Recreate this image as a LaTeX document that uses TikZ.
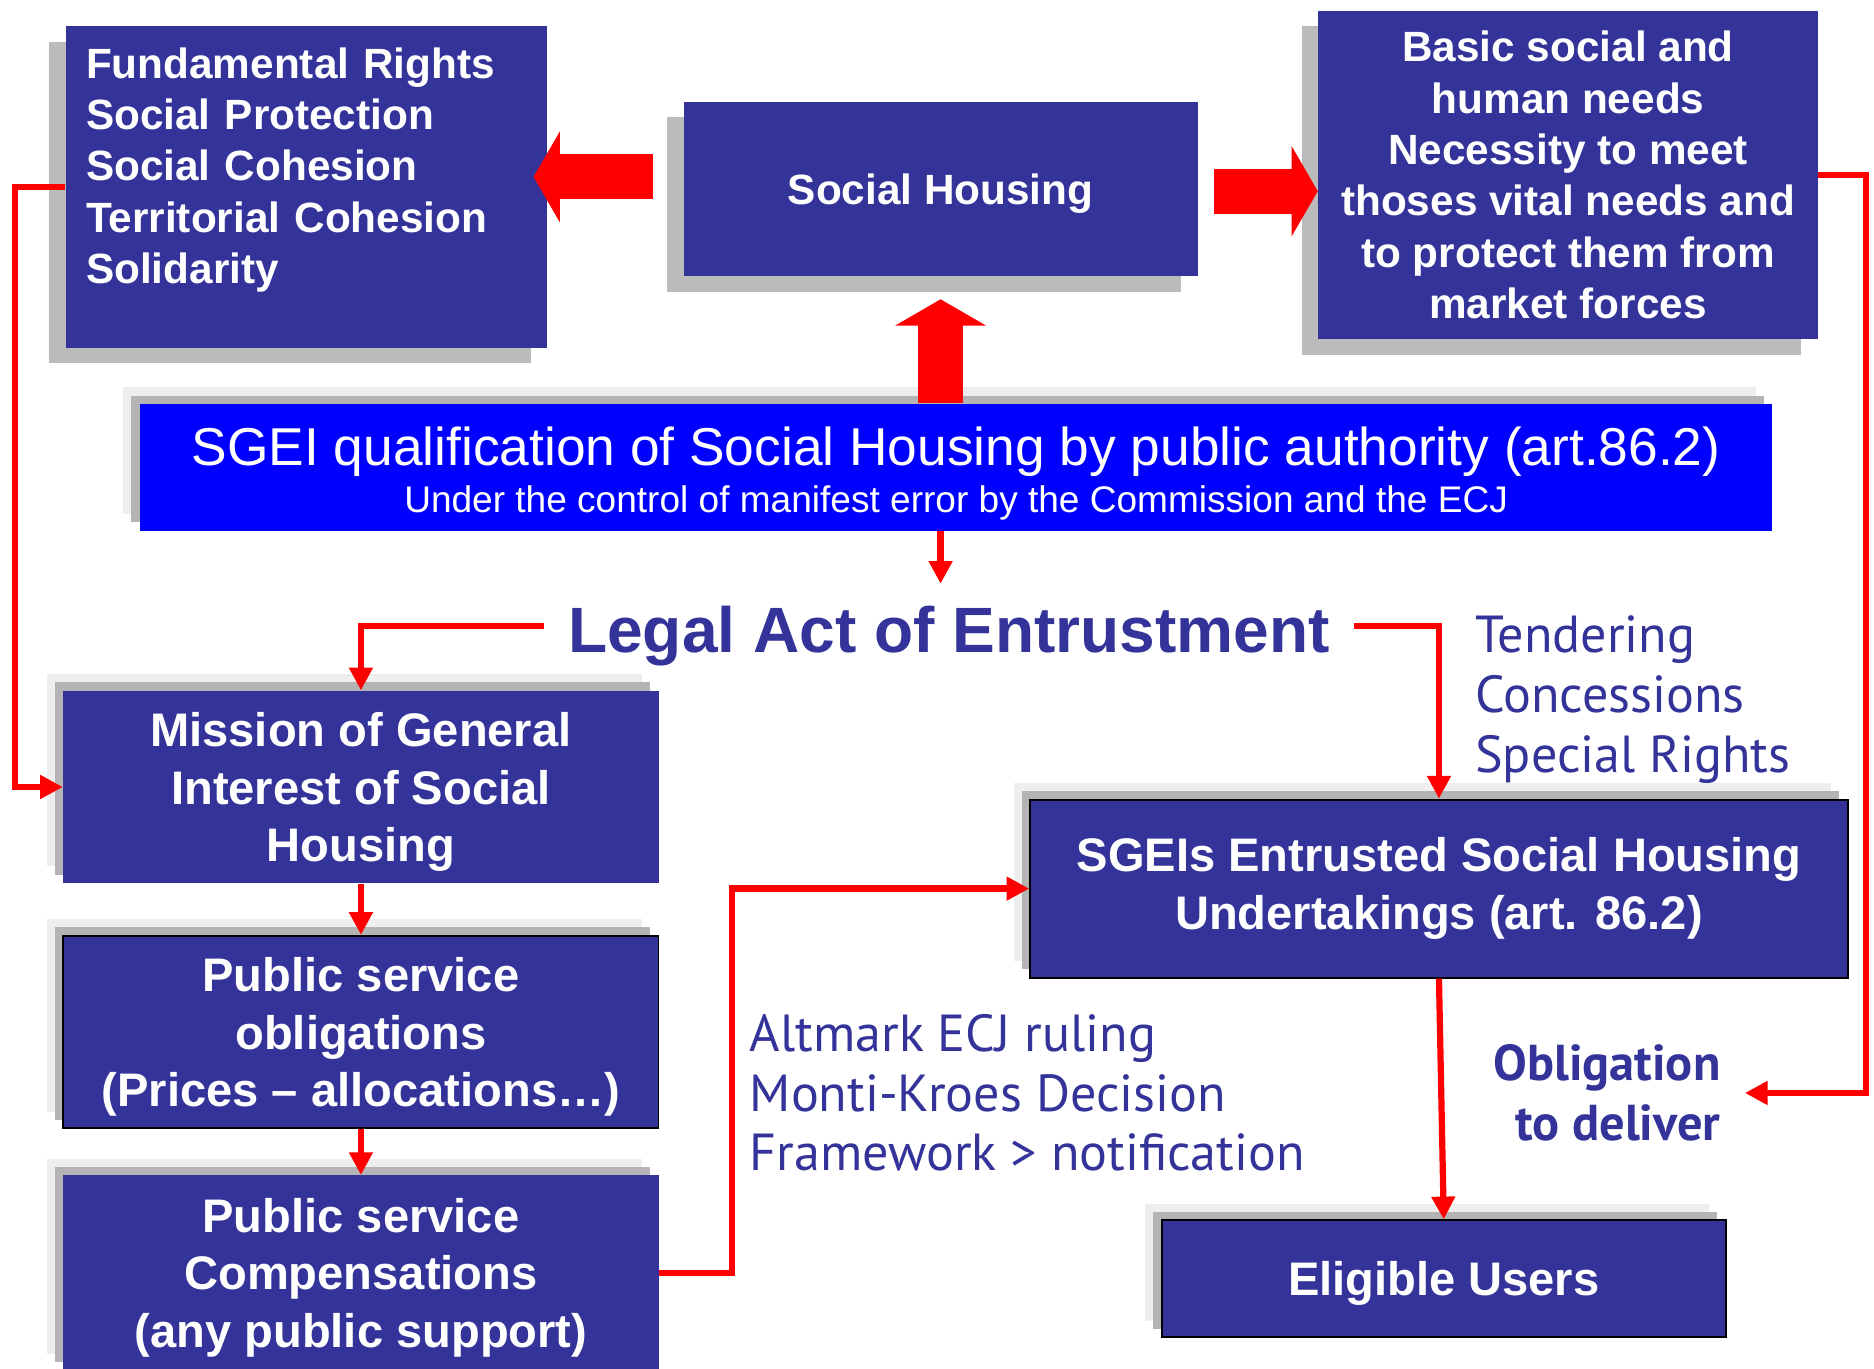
\documentclass[tikz,border=0pt]{standalone}
\usepackage{fontspec}
\setmainfont{Liberation Sans}
\newfontfamily\notefont{PT Sans}
\usetikzlibrary{arrows.meta,positioning,shadows,calc}
\definecolor{boxblue}{RGB}{51,51,153}
\definecolor{bandblue}{RGB}{0,0,255}
\definecolor{shadowgrey}{RGB}{187,187,187}
\definecolor{midgrey}{RGB}{180,180,180}
\definecolor{lightgrey}{RGB}{238,238,238}
\newcommand{\lowstrut}{\rule{0pt}{18.4pt}}

\begin{document}
\begin{tikzpicture}[x=0.5pt,y=-0.5pt,
    box/.style={fill=boxblue,text=white,align=center,inner sep=0pt,font=\bfseries\fontsize{17.7}{21.5}\selectfont},
    topshade/.style={general shadow={fill=shadowgrey,draw=none,shadow xshift=-7pt,shadow yshift=-6.5pt}},
    lowshade/.style={general shadow={fill=lightgrey,draw=none,shadow xshift=-7pt,shadow yshift=7pt},
      general shadow={fill=midgrey,draw=none,shadow xshift=-3.5pt,shadow yshift=3.5pt}},
    topbox/.style={box,topshade},
    lowbox/.style={box,lowshade,font=\bfseries\fontsize{19.7}{24}\selectfont},
    framed/.style={draw=black,line width=0.8pt},
    link/.style={draw=red,line width=2.6pt,-{Triangle[length=9.5pt,width=9.5pt]}},
    bigarrow/.style={draw=red,line width=18.75pt,-{Triangle[length=11pt,width=37.5pt]}},
    note/.style={text=boxblue,inner sep=0pt,align=left,font=\notefont\fontsize{21.8}{25}\selectfont}]

    \useasboundingbox (0,0) rectangle (1568,1145);
    \clip (0,0) rectangle (1568,1145);

    % top row
    \node[topbox,align=left,text width=184.5pt,inner xsep=8.5pt,minimum height=134.5pt] (fund) at (256.5,156.5)
        {Fundamental Rights\\Social Protection\\Social Cohesion\\Territorial Cohesion\\Solidarity\rule[-18pt]{0pt}{0pt}};
    \node[topbox,minimum width=215pt,minimum height=73pt] (sh) at (787,158) {\rule{0pt}{17pt}Social Housing};
    \node[topbox,minimum width=209pt,minimum height=137.5pt] (basic) at (1312,146.5)
        {Basic social and\\human needs\\Necessity to meet\\thoses vital needs and\\to protect them from\\market forces};

    % qualification band
    \node[lowshade,fill=bandblue,text=white,align=center,inner sep=0pt,minimum width=683pt,minimum height=53pt,
          font=\fontsize{22.3}{19.5}\selectfont] (sgei) at (800,391)
        {\rule{0pt}{21.5pt}SGEI qualification of Social Housing by public authority (art.86.2)\\
         {\fontsize{15.5}{19.5}\selectfont Under the control of manifest error by the Commission and the ECJ}};

    \node[text=boxblue,inner sep=0pt,font=\bfseries\fontsize{26.8}{32}\selectfont] (legal) at (794,532) {Legal Act of Entrustment};

    % left column
    \node[lowbox,minimum width=249pt,minimum height=80.5pt] (mission) at (302,658.5) {\lowstrut Mission of General\\Interest of Social\\Housing};
    \node[lowbox,framed,minimum width=249pt,minimum height=80.5pt] (pso) at (302,863.5) {\lowstrut Public service\\obligations\\(Prices – allocations…)};
    \node[lowbox,minimum width=249pt,minimum height=81.5pt] (psc) at (302,1065) {\lowstrut Public service\\Compensations\\(any public support)};

    % right column
    \node[lowbox,framed,minimum width=342pt,minimum height=74.5pt] (sgeis) at (1204,743.5) {SGEIs Entrusted Social Housing\\Undertakings (art. 86.2)};
    \node[lowbox,framed,minimum width=236pt,minimum height=49pt] (elig) at (1208,1070) {\lowstrut Eligible Users};

    \node[note,anchor=west] (tender) at (1234,585.5) {Tendering\\Concessions\\Special Rights};
    \node[note,anchor=west] (altmark) at (627,914.5) {Altmark ECJ ruling\\Monti-Kroes Decision\\Framework > notification};
    \node[note,anchor=east,align=right,font=\notefont\bfseries\fontsize{21.1}{25}\selectfont] (oblig) at (1440,914.5) {Obligation\\to deliver};

    % block arrows
    \draw[bigarrow] ([xshift=-12.5pt,yshift=5pt]sh.west) -- ([xshift=-6pt,yshift=4.25pt]fund.east);
    \draw[bigarrow] ([xshift=6.5pt,yshift=-1pt]sh.east) -- ([yshift=-6.75pt]basic.west);
    \draw[bigarrow] ([xshift=-6.5pt]sgei.north) -- ([yshift=-9.5pt]sh.south);

    % links
    \draw[link] ([xshift=-6.5pt]sgei.south) -- ++(0,44);
    \draw[link] ([xshift=-10pt,yshift=4pt]legal.west) -| (mission.north);
    \draw[link] ([xshift=10pt,yshift=4pt]legal.east) -| (sgeis.north);
    \draw[link] (fund.west) -- ++(-42,0) |- (mission.west);
    \draw[link] (mission.south) -- (pso.north);
    \draw[link] (pso.south) -- (psc.north);
    \draw[link] (psc.east) -- ++(61,0) |- (sgeis.west);
    \draw[link] (sgeis.south) -- (elig.north);
    \draw[link] (basic.east) -- ++(40,0) |- ([xshift=10pt]oblig.east);
\end{tikzpicture}
\end{document}
